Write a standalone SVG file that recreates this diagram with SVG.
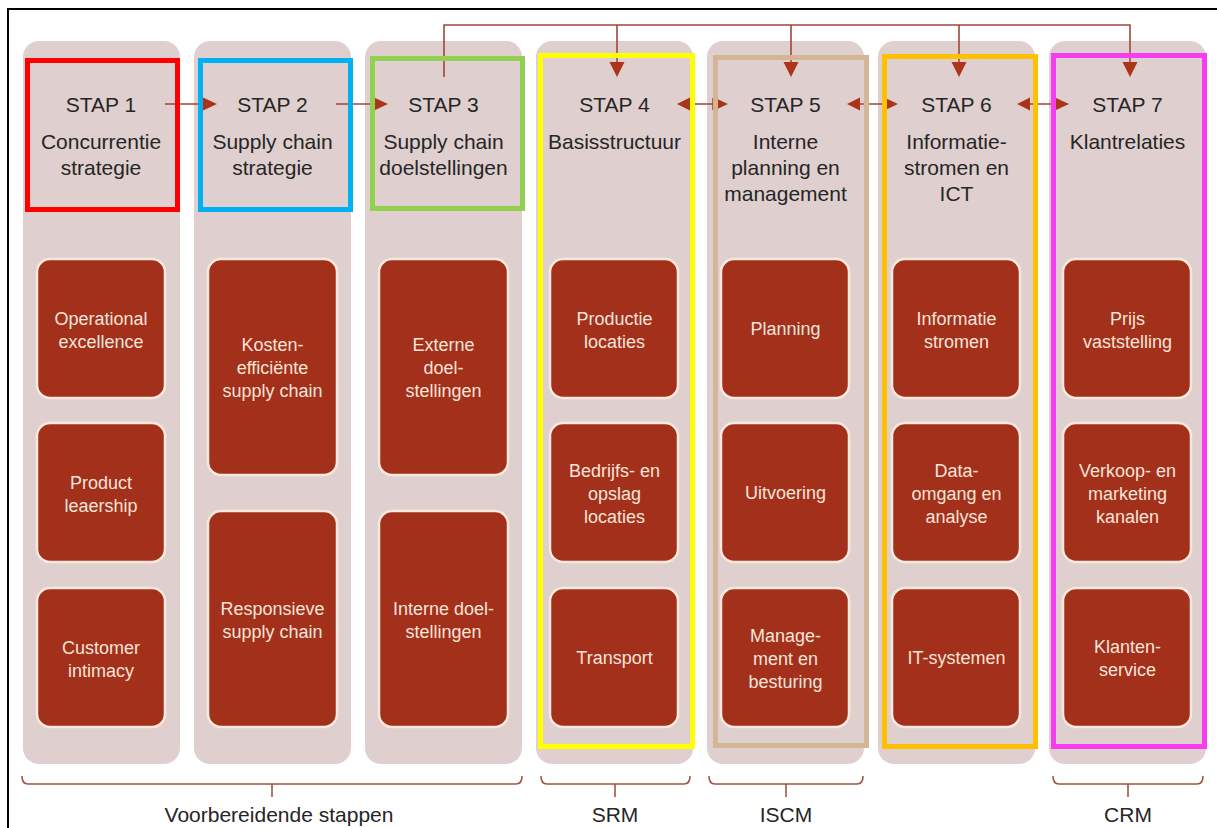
<svg xmlns="http://www.w3.org/2000/svg" width="1217" height="828" viewBox="0 0 1217 828">
  <defs>
    <style>
      .col { fill: #dfcfce; }
      .frame { fill: none; stroke-width: 5; }
      .box { fill: #a3301a; stroke: #fbe9de; stroke-width: 2.5; }
      .head { font-family: "Liberation Sans", Arial, sans-serif; font-size: 21px; fill: #262626; text-anchor: middle; }
      .inner { font-family: "Liberation Sans", Arial, sans-serif; font-size: 18px; fill: #f8e4d9; text-anchor: middle; }
      .foot { font-family: "Liberation Sans", Arial, sans-serif; font-size: 21px; fill: #262626; text-anchor: middle; }
      .link { fill: none; stroke: #a0473a; stroke-width: 1.6; }
      .tip { fill: #ab3519; }
      .brace { fill: none; stroke: #a0554a; stroke-width: 1.6; }
    </style>
  </defs>

  <rect width="1217" height="828" fill="#ffffff"/>
  <rect x="8" y="9" width="1216" height="830" fill="none" stroke="#000000" stroke-width="2"/>

  <!-- column backgrounds -->
  <g id="columns">
    <rect class="col" x="23" y="41" width="157" height="723" rx="16"/>
    <rect class="col" x="194" y="41" width="157" height="723" rx="16"/>
    <rect class="col" x="365" y="41" width="157" height="723" rx="16"/>
    <rect class="col" x="536" y="41" width="157" height="723" rx="16"/>
    <rect class="col" x="707" y="41" width="157" height="723" rx="16"/>
    <rect class="col" x="878" y="41" width="157" height="723" rx="16"/>
    <rect class="col" x="1049" y="41" width="157" height="723" rx="16"/>
  </g>

  <!-- connectors -->
  <g id="connectors">
    <!-- feedback line from stap 3 to stap 4..7 -->
    <path class="link" d="M444,77 V25 H1130 V62 M617,25 V62 M791,25 V62 M959,25 V62"/>
    <polygon class="tip" points="609.5,62 624.5,62 617,77"/>
    <polygon class="tip" points="783.5,62 798.5,62 791,77"/>
    <polygon class="tip" points="951.5,62 966.5,62 959,77"/>
    <polygon class="tip" points="1122.5,62 1137.5,62 1130,77"/>

    <!-- stap 1 -> stap 2 -> stap 3 -->
    <path class="link" d="M165,104 H203 M336,104 H374"/>
    <polygon class="tip" points="203,97.5 217,104 203,110.5"/>
    <polygon class="tip" points="374,97.5 388,104 374,110.5"/>

    <!-- stap 4 <-> 5 -->
    <path class="link" d="M690,104 H713 M713,98 V110"/>
    <polygon class="tip" points="690,97.5 677,104 690,110.5"/>
    <polygon class="tip" points="714,97.5 728,104 714,110.5"/>
    <!-- stap 5 <-> 6 -->
    <path class="link" d="M860,104 H883 M883,98 V110"/>
    <polygon class="tip" points="860,97.5 847,104 860,110.5"/>
    <polygon class="tip" points="884,97.5 898,104 884,110.5"/>
    <!-- stap 6 <-> 7 -->
    <path class="link" d="M1030,104 H1054 M1054,98 V110"/>
    <polygon class="tip" points="1030,97.5 1017,104 1030,110.5"/>
    <polygon class="tip" points="1055,97.5 1069,104 1055,110.5"/>
  </g>

  <!-- highlight frames -->
  <g id="frames">
    <rect class="frame" stroke="#ff0000" x="27.5" y="60.5" width="150" height="149"/>
    <rect class="frame" stroke="#00b0f0" x="200.5" y="60.5" width="150" height="149"/>
    <rect class="frame" stroke="#92d050" x="372.5" y="58.5" width="150" height="150"/>
    <rect class="frame" stroke="#ffff00" x="540.5" y="55.5" width="152" height="691"/>
    <rect class="frame" stroke="#d4b595" x="715.5" y="57.5" width="151" height="688"/>
    <rect class="frame" stroke="#ffc000" x="884.5" y="56.5" width="151" height="690"/>
    <rect class="frame" stroke="#f83cf0" x="1053.5" y="55.5" width="151" height="691"/>
  </g>

  <!-- STAP 1 -->
  <g id="stap1">
    <text class="head" x="101" y="111.5">STAP 1</text>
    <text class="head" x="101" y="149">Concurrentie</text>
    <text class="head" x="101" y="175">strategie</text>
    <rect class="box" x="37" y="259" width="128" height="139" rx="13"/>
    <text class="inner" x="101" y="324.5">Operational</text>
    <text class="inner" x="101" y="347.5">excellence</text>
    <rect class="box" x="37" y="423" width="128" height="139" rx="13"/>
    <text class="inner" x="101" y="488.5">Product</text>
    <text class="inner" x="101" y="511.5">leaership</text>
    <rect class="box" x="37" y="588" width="128" height="139" rx="13"/>
    <text class="inner" x="101" y="653.5">Customer</text>
    <text class="inner" x="101" y="676.5">intimacy</text>
  </g>

  <!-- STAP 2 -->
  <g id="stap2">
    <text class="head" x="272.5" y="111.5">STAP 2</text>
    <text class="head" x="272.5" y="149">Supply chain</text>
    <text class="head" x="272.5" y="175">strategie</text>
    <rect class="box" x="208" y="259" width="129" height="216" rx="13"/>
    <text class="inner" x="272.5" y="351">Kosten-</text>
    <text class="inner" x="272.5" y="374">efficiënte</text>
    <text class="inner" x="272.5" y="397">supply chain</text>
    <rect class="box" x="208" y="511" width="129" height="216" rx="13"/>
    <text class="inner" x="272.5" y="614.5">Responsieve</text>
    <text class="inner" x="272.5" y="637.5">supply chain</text>
  </g>

  <!-- STAP 3 -->
  <g id="stap3">
    <text class="head" x="443.5" y="111.5">STAP 3</text>
    <text class="head" x="443.5" y="149">Supply chain</text>
    <text class="head" x="443.5" y="175">doelstellingen</text>
    <rect class="box" x="379" y="259" width="129" height="216" rx="13"/>
    <text class="inner" x="443.5" y="351">Externe</text>
    <text class="inner" x="443.5" y="374">doel-</text>
    <text class="inner" x="443.5" y="397">stellingen</text>
    <rect class="box" x="379" y="511" width="129" height="216" rx="13"/>
    <text class="inner" x="443.5" y="614.5">Interne doel-</text>
    <text class="inner" x="443.5" y="637.5">stellingen</text>
  </g>

  <!-- STAP 4 -->
  <g id="stap4">
    <text class="head" x="614.5" y="111.5">STAP 4</text>
    <text class="head" x="614.5" y="149">Basisstructuur</text>
    <rect class="box" x="550" y="259" width="128" height="139" rx="13"/>
    <text class="inner" x="614.5" y="324.5">Productie</text>
    <text class="inner" x="614.5" y="347.5">locaties</text>
    <rect class="box" x="550" y="423" width="128" height="139" rx="13"/>
    <text class="inner" x="614.5" y="476.5">Bedrijfs- en</text>
    <text class="inner" x="614.5" y="499.5">opslag</text>
    <text class="inner" x="614.5" y="522.5">locaties</text>
    <rect class="box" x="550" y="588" width="128" height="139" rx="13"/>
    <text class="inner" x="614.5" y="664">Transport</text>
  </g>

  <!-- STAP 5 -->
  <g id="stap5">
    <text class="head" x="785.5" y="111.5">STAP 5</text>
    <text class="head" x="785.5" y="149">Interne</text>
    <text class="head" x="785.5" y="175">planning en</text>
    <text class="head" x="785.5" y="201">management</text>
    <rect class="box" x="721" y="259" width="128" height="139" rx="13"/>
    <text class="inner" x="785.5" y="335">Planning</text>
    <rect class="box" x="721" y="423" width="128" height="139" rx="13"/>
    <text class="inner" x="785.5" y="499">Uitvoering</text>
    <rect class="box" x="721" y="588" width="128" height="139" rx="13"/>
    <text class="inner" x="785.5" y="641.5">Manage-</text>
    <text class="inner" x="785.5" y="664.5">ment en</text>
    <text class="inner" x="785.5" y="687.5">besturing</text>
  </g>

  <!-- STAP 6 -->
  <g id="stap6">
    <text class="head" x="956.5" y="111.5">STAP 6</text>
    <text class="head" x="956.5" y="149">Informatie-</text>
    <text class="head" x="956.5" y="175">stromen en</text>
    <text class="head" x="956.5" y="201">ICT</text>
    <rect class="box" x="892" y="259" width="128" height="139" rx="13"/>
    <text class="inner" x="956.5" y="324.5">Informatie</text>
    <text class="inner" x="956.5" y="347.5">stromen</text>
    <rect class="box" x="892" y="423" width="128" height="139" rx="13"/>
    <text class="inner" x="956.5" y="476.5">Data-</text>
    <text class="inner" x="956.5" y="499.5">omgang en</text>
    <text class="inner" x="956.5" y="522.5">analyse</text>
    <rect class="box" x="892" y="588" width="128" height="139" rx="13"/>
    <text class="inner" x="956.5" y="664">IT-systemen</text>
  </g>

  <!-- STAP 7 -->
  <g id="stap7">
    <text class="head" x="1127.5" y="111.5">STAP 7</text>
    <text class="head" x="1127.5" y="149">Klantrelaties</text>
    <rect class="box" x="1063" y="259" width="128" height="139" rx="13"/>
    <text class="inner" x="1127.5" y="324.5">Prijs</text>
    <text class="inner" x="1127.5" y="347.5">vaststelling</text>
    <rect class="box" x="1063" y="423" width="128" height="139" rx="13"/>
    <text class="inner" x="1127.5" y="476.5">Verkoop- en</text>
    <text class="inner" x="1127.5" y="499.5">marketing</text>
    <text class="inner" x="1127.5" y="522.5">kanalen</text>
    <rect class="box" x="1063" y="588" width="128" height="139" rx="13"/>
    <text class="inner" x="1127.5" y="653">Klanten-</text>
    <text class="inner" x="1127.5" y="676">service</text>
  </g>

  <!-- grouping braces -->
  <g id="braces">
    <path class="brace" d="M22,776 Q22,784 28,784 H516 Q522,784 522,776 M272,784 V797"/>
    <path class="brace" d="M541,776 Q541,784 547,784 H684 Q690,784 690,776 M615,784 V797"/>
    <path class="brace" d="M709,776 Q709,784 715,784 H857 Q863,784 863,776 M786,784 V797"/>
    <path class="brace" d="M1053,776 Q1053,784 1059,784 H1197 Q1203,784 1203,776 M1128,784 V797"/>
    <text class="foot" x="279" y="822">Voorbereidende stappen</text>
    <text class="foot" x="615" y="822">SRM</text>
    <text class="foot" x="786" y="822">ISCM</text>
    <text class="foot" x="1128" y="822">CRM</text>
  </g>
</svg>
